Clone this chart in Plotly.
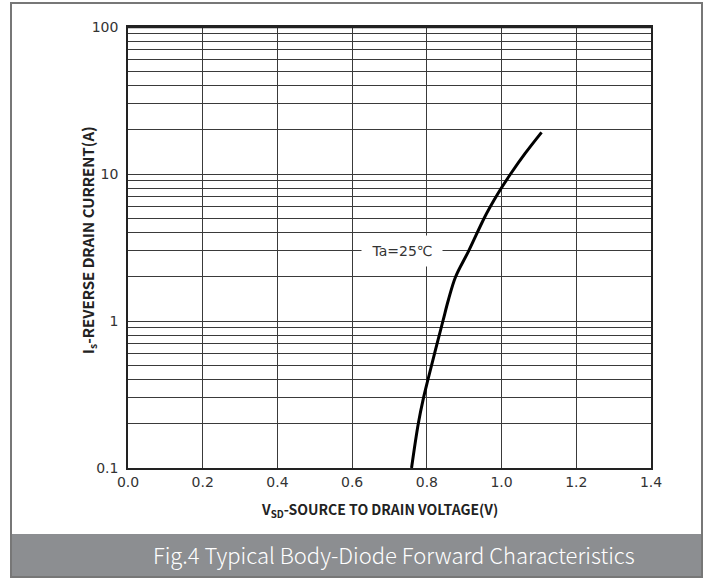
import plotly.graph_objects as go

# Curve data
vsd = [0.759, 0.777, 0.791, 0.803, 0.843, 0.858, 0.877, 0.912, 0.955, 0.980, 0.999, 1.024, 1.063, 1.107]
isd = [0.1, 0.2, 0.3, 0.4, 1.0, 1.4, 2.0, 3.0, 5.1, 6.65, 8.0, 10.0, 13.8, 19.2]

x_ticks = [0.0, 0.2, 0.4, 0.6, 0.8, 1.0, 1.2, 1.4]
x_ticktext = ["0.0", "0.2", "0.4", "0.6", "0.8", "1.0", "1.2", "1.4"]
y_ticks = [m * d for d in (0.1, 1, 10) for m in range(1, 10)] + [100]
y_labels = {0.1: "0.1", 1: "1", 10: "10", 100: "100"}
y_ticktext = [y_labels.get(round(v, 6), "") for v in y_ticks]

x_title = "<b>V<sub>SD</sub>-SOURCE TO DRAIN VOLTAGE(V)</b>"
y_title = "<b>I<sub>s</sub>-REVERSE DRAIN CURRENT(A)</b>"
label_text = "Ta=25℃"
label_x, label_y = 0.733, 3.0
caption = "Fig.4 Typical Body-Diode Forward Characteristics"

W, H = 712, 578
L, R, T, B = 128, 61, 27, 110
pw, ph = W - L - R, H - T - B


def px(xp):
    return (xp - L) / pw


def py(yp):
    return (H - B - yp) / ph


fig = go.Figure()
fig.add_trace(go.Scatter(x=vsd, y=isd, mode="lines",
                         line=dict(color="black", width=3, shape="spline", smoothing=1.0),
                         showlegend=False, hoverinfo="skip"))

fig.update_layout(
    width=W, height=H,
    margin=dict(l=L, r=R, t=T, b=B),
    paper_bgcolor="white", plot_bgcolor="white",
    font=dict(family="DejaVu Sans", color="#333", size=14),
    xaxis=dict(range=[0, 1.4], tickvals=x_ticks, ticktext=x_ticktext,
               showgrid=True, gridcolor="#3a3a3a", gridwidth=1,
               showline=True, linecolor="#222", linewidth=1.5, mirror=True,
               ticks="", zeroline=False,
               tickfont=dict(size=14, family="DejaVu Sans", color="#333")),
    yaxis=dict(type="log", range=[-1, 2], tickvals=y_ticks, ticktext=y_ticktext,
               showgrid=True, gridcolor="#3a3a3a", gridwidth=1,
               showline=True, linecolor="#222", linewidth=1.5, mirror=True,
               ticks="", zeroline=False, ticklabelstandoff=5,
               tickfont=dict(size=14, family="DejaVu Sans", color="#333")),
)

# axis titles
fig.add_annotation(x=px(379), y=py(510), xref="paper", yref="paper", text=x_title,
                   xanchor="center", yanchor="middle", showarrow=False,
                   font=dict(family="Noto Sans CJK SC", size=14, color="#222"))
fig.add_annotation(x=px(88), y=py(240), xref="paper", yref="paper", text=y_title,
                   xanchor="center", yanchor="middle", showarrow=False, textangle=-90,
                   font=dict(family="Noto Sans CJK SC", size=15, color="#222"))

# label with white background
fig.add_annotation(x=label_x, y=0.4771, xref="x", yref="y", text=label_text,
                   xanchor="center", yanchor="middle",
                   showarrow=False, bgcolor="white", width=78, height=28,
                   font=dict(family="DejaVu Sans", size=14, color="#333"))

# thick top line of plot
fig.add_shape(type="line", xref="paper", yref="paper", x0=0, x1=1, y0=1, y1=1,
              line=dict(color="#222", width=2.5))

# caption bar and outer border
fig.add_shape(type="rect", xref="paper", yref="paper",
              x0=px(11), x1=px(702), y0=py(577), y1=py(534),
              fillcolor="#8c8e91", line=dict(width=0), layer="below")
fig.add_shape(type="rect", xref="paper", yref="paper",
              x0=px(11), x1=px(702), y0=py(577), y1=py(3),
              line=dict(color="#777", width=2), fillcolor="rgba(0,0,0,0)")
fig.add_annotation(x=px(394), y=py(554), xref="paper", yref="paper",
                   xanchor="center", yanchor="middle",
                   text=caption, showarrow=False,
                   font=dict(family="Noto Sans CJK SC", size=22, color="white", weight=300))

fig.write_html("out.html", config={"displayModeBar": False})

# remove default page margin so the figure sits at the window origin
with open("out.html", "r", encoding="utf-8") as f:
    html = f.read()
html = html.replace("<head>", "<head><style>html,body{margin:0;padding:0;overflow:hidden;}</style>", 1)
with open("out.html", "w", encoding="utf-8") as f:
    f.write(html)
